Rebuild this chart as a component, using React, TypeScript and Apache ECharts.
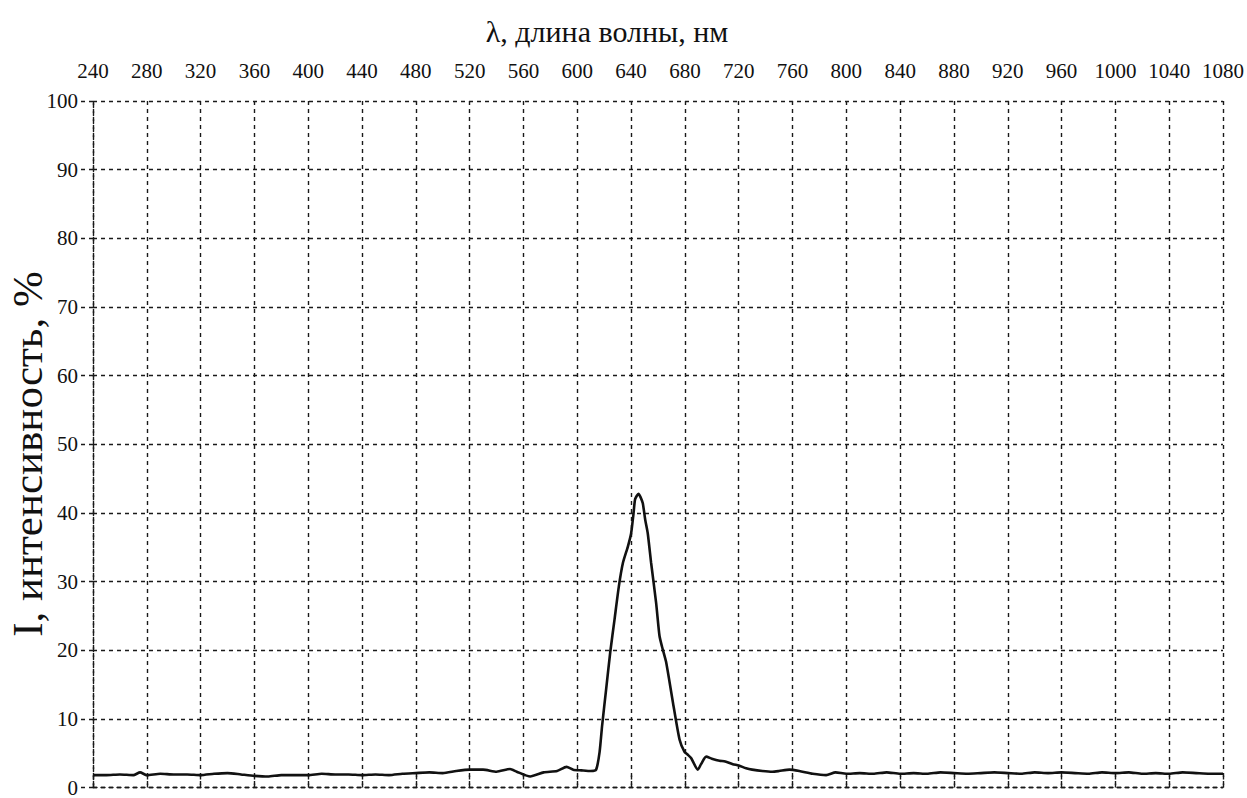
import React, { useEffect, useRef } from "react";
import * as echarts from "echarts";

const xTitle = "λ, длина волны, нм";
const yTitle = "I, интенсивность, %";

const wavelengths = [
  240, 250, 260, 270, 275, 280, 290, 300, 310, 320, 330, 340, 350, 360, 370, 380, 390, 400,
  410, 420, 430, 440, 450, 460, 470, 480, 490, 500, 510, 520, 530, 540, 550, 555, 565, 575,
  585, 592, 597, 603, 610, 614, 616.6, 618.5, 621.5, 624.5, 627.7, 630.9, 633.9, 637.6, 640,
  641.8, 643, 645.5, 647, 648.7, 650.5, 652.4, 654.9, 658.6, 661.1, 663, 666, 671, 676, 679.7,
  682, 684.6, 689.6, 692, 695.8, 700, 705.7, 710, 715.6, 720, 725.5, 730, 737.6, 745, 750,
  757.7, 765, 775, 785, 792, 800, 810, 820, 830, 840, 850, 860, 870, 880, 890, 900, 910, 920,
  930, 940, 950, 960, 970, 980, 990, 1000, 1010, 1020, 1030, 1040, 1050, 1060, 1070, 1080,
];

const intensity = [
  1.8, 1.8, 1.9, 1.8, 2.2, 1.8, 2.0, 1.9, 1.9, 1.8, 2.0, 2.1, 1.9, 1.7, 1.6, 1.8, 1.8, 1.8,
  2.0, 1.9, 1.9, 1.8, 1.9, 1.8, 2.0, 2.1, 2.2, 2.1, 2.4, 2.6, 2.6, 2.3, 2.7, 2.3, 1.6, 2.2,
  2.4, 3.0, 2.6, 2.5, 2.4, 2.6, 5.2, 9.1, 14.4, 19.7, 24.5, 29.3, 32.7, 35.1, 37.0,
  39.9, 42.0, 42.8, 42.3, 41.4, 39.0, 37.0, 32.7, 26.9, 22.1, 20.5, 18.3, 12.5, 7.0, 5.2,
  4.8, 4.3, 2.6, 3.4, 4.5, 4.2, 3.9, 3.8, 3.4, 3.2, 2.8, 2.6, 2.4, 2.3, 2.4,
  2.6, 2.4, 2.0, 1.8, 2.2, 2.0, 2.1, 2.0, 2.2, 2.0, 2.1, 2.0, 2.2, 2.1, 2.0, 2.1, 2.2, 2.1,
  2.0, 2.2, 2.1, 2.2, 2.1, 2.0, 2.2, 2.1, 2.2, 2.0, 2.1, 2.0, 2.2, 2.1, 2.0, 2.0,
];

const FONT = "'Liberation Serif', 'Times New Roman', 'DejaVu Serif', serif";

export default function App() {
  const ref = useRef<HTMLDivElement>(null);
  useEffect(() => {
    if (!ref.current) return;
    const chart = echarts.init(ref.current, undefined, { renderer: "svg" });
    const data = wavelengths.map((w, i) => [w, intensity[i]]);
    const dashed = { color: "#1a1a1a", width: 1.4, type: [4, 4] as any };
    chart.setOption({
      animation: false,
      backgroundColor: "#ffffff",
      textStyle: { fontFamily: FONT },
      grid: { left: 93, right: 23, top: 101, bottom: 5, containLabel: false },
      xAxis: {
        type: "value",
        position: "top",
        min: 240,
        max: 1080,
        interval: 40,
        axisLine: { show: true, lineStyle: dashed },
        axisTick: { show: true, length: 16, lineStyle: dashed },
        axisLabel: {
          fontFamily: FONT,
          fontSize: 21,
          color: "#111",
          margin: 20,
          formatter: (v: number) => String(v),
        },
        splitLine: { show: true, lineStyle: dashed },
      },
      yAxis: {
        type: "value",
        min: 0,
        max: 100,
        interval: 10,
        axisLine: { show: true, lineStyle: dashed },
        axisTick: { show: true, length: 12, lineStyle: dashed },
        axisLabel: {
          fontFamily: FONT,
          fontSize: 21,
          color: "#111",
          margin: 15,
          formatter: (v: number) => String(v),
        },
        splitLine: { show: true, lineStyle: dashed },
      },
      graphic: [
        {
          type: "text",
          x: 607,
          y: 31,
          style: {
            text: xTitle,
            fontFamily: FONT,
            fontSize: 30,
            fill: "#111",
            textAlign: "center",
            textVerticalAlign: "middle",
          },
        },
        {
          type: "text",
          x: 27,
          y: 454,
          rotation: Math.PI / 2,
          style: {
            text: yTitle,
            fontFamily: FONT,
            fontSize: 43,
            fill: "#111",
            textAlign: "center",
            textVerticalAlign: "middle",
          },
        },
      ],
      series: [
        {
          type: "line",
          data,
          showSymbol: false,
          smooth: 0.2,
          lineStyle: { color: "#111", width: 2.6 },
        },
      ],
    });
    return () => chart.dispose();
  }, []);
  return (
    <div
      ref={ref}
      style={{ position: "fixed", left: 0, top: 0, width: 1247, height: 798, background: "#fff" }}
    />
  );
}
